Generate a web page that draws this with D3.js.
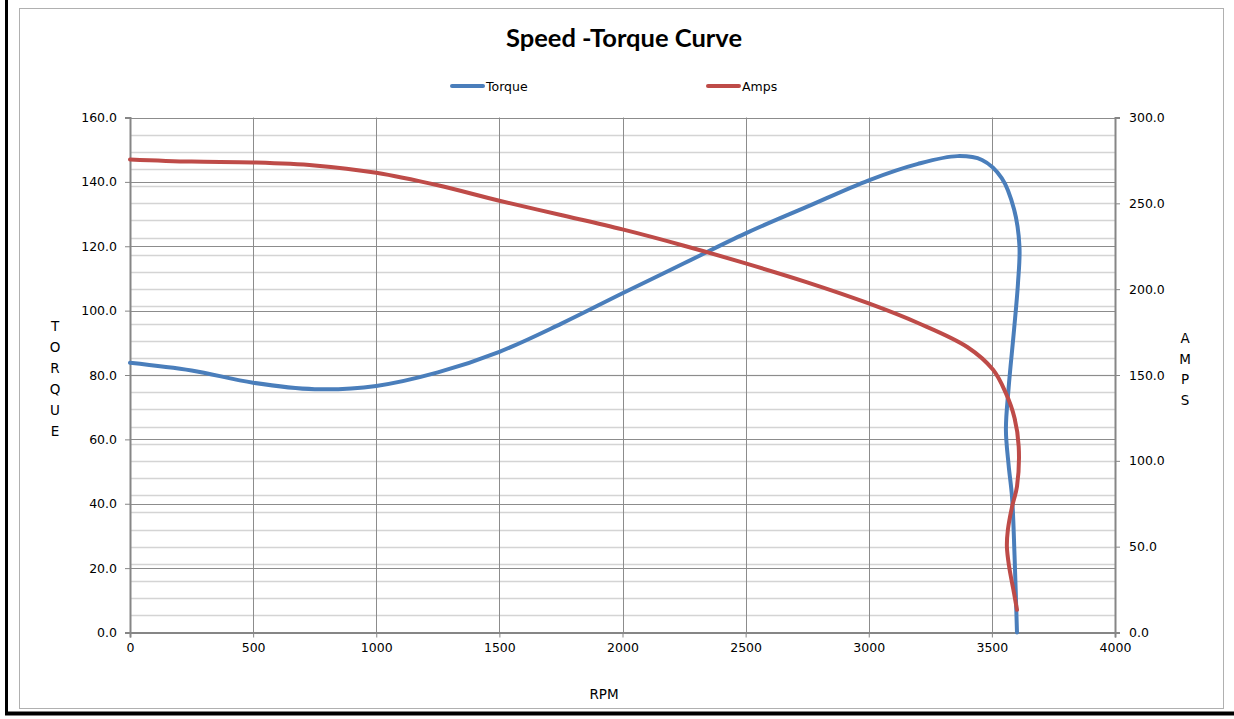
<!DOCTYPE html>
<html>
<head>
<meta charset="utf-8">
<script src="https://cdn.jsdelivr.net/npm/d3@7"></script>
<style>
  body { margin: 0; background: #fff; }
  svg text { font-family: "DejaVu Sans", sans-serif; fill: #000; }
</style>
</head>
<body>
<svg id="chart" width="1234" height="719"></svg>
<script>
// torque curve (rpm, lb-ft)
var torqueRpm = [0, 250, 500, 750, 1000, 1250, 1500, 1750, 2000, 2250, 2500, 2750, 3000, 3200, 3360, 3460, 3540, 3590, 3612, 3606, 3590, 3568, 3557, 3568, 3582, 3592, 3602];
var torqueVal = [83.8, 81.4, 77.6, 75.6, 76.6, 80.8, 87.2, 95.9, 105.4, 114.7, 124.0, 132.3, 140.5, 145.6, 148.0, 146.8, 141.2, 131.5, 120.0, 108.5, 94.0, 76.0, 63.0, 52.0, 42.0, 24.0, 0];

// amps curve
var ampsRpm = [0, 250, 500, 750, 1000, 1250, 1500, 1750, 2000, 2250, 2500, 2750, 3000, 3200, 3400, 3505, 3555, 3592, 3609, 3602, 3582, 3565, 3561, 3570, 3590, 3602];
var ampsVal = [275.6, 274.3, 273.8, 272.1, 267.8, 260.5, 251.5, 243.2, 234.8, 225.3, 215.0, 204.0, 191.7, 180.3, 166.3, 153.0, 140.0, 125.0, 108.3, 85.0, 73.3, 59.8, 50.0, 38.4, 22.9, 13.2];

var xTicks = [0, 500, 1000, 1500, 2000, 2500, 3000, 3500, 4000];
var torqueTicks = [0, 20, 40, 60, 80, 100, 120, 140, 160];
var ampsTicks = [0, 50, 100, 150, 200, 250, 300];

var torqueColor = "#4a7ebb";
var ampsColor = "#be4b48";
var axisColor = "#868686";

var svg = d3.select("#chart");

var margin = {left: 130, right: 1115, top: 117.5, bottom: 632.5};

var xScale = d3.scaleLinear().domain([0, 4000]).range([margin.left, margin.right]);
var yLeft = d3.scaleLinear().domain([0, 160]).range([margin.bottom, margin.top]);
var yRight = d3.scaleLinear().domain([0, 300]).range([margin.bottom, margin.top]);

// 外框
svg.append("rect")
    .attr("x", 19.5).attr("y", 8.5)
    .attr("width", 1204).attr("height", 700)
    .attr("fill", "none")
    .attr("stroke", "#b0b0b0")
    .attr("stroke-width", 1);
svg.append("line")
    .attr("x1", 6.5).attr("y1", 0).attr("x2", 6.5).attr("y2", 715)
    .attr("stroke", "#000").attr("stroke-width", 3);
svg.append("line")
    .attr("x1", 5).attr("y1", 713.5).attr("x2", 1234).attr("y2", 713.5)
    .attr("stroke", "#000").attr("stroke-width", 4);

// 网格
var grid = svg.append("g");
grid.selectAll(".amps-grid")
    .data(d3.range(10, 300, 10))
    .join("line")
    .attr("class", "amps-grid")
    .attr("x1", margin.left).attr("x2", margin.right)
    .attr("y1", d => Math.round(yRight(d)) + 0.5)
    .attr("y2", d => Math.round(yRight(d)) + 0.5)
    .attr("stroke", "#d4d4d4")
    .attr("stroke-width", 1.5);
grid.selectAll(".torque-grid")
    .data(torqueTicks.slice(1))
    .join("line")
    .attr("class", "torque-grid")
    .attr("x1", margin.left).attr("x2", margin.right)
    .attr("y1", d => Math.round(yLeft(d)) + 0.5)
    .attr("y2", d => Math.round(yLeft(d)) + 0.5)
    .attr("stroke", "#8c8c8c")
    .attr("stroke-width", 1);
grid.selectAll(".x-grid")
    .data(xTicks.slice(1, -1))
    .join("line")
    .attr("class", "x-grid")
    .attr("x1", d => Math.round(xScale(d)) + 0.5)
    .attr("x2", d => Math.round(xScale(d)) + 0.5)
    .attr("y1", margin.top).attr("y2", margin.bottom)
    .attr("stroke", "#8c8c8c")
    .attr("stroke-width", 1);

// 坐标轴
var fmt = d3.format(".1f");
var xAxis = d3.axisBottom(xScale).tickValues(xTicks).tickSize(5).tickPadding(6).tickFormat(d3.format("d"));
var leftAxis = d3.axisLeft(yLeft).tickValues(torqueTicks).tickSize(5).tickPadding(8).tickFormat(fmt);
var rightAxis = d3.axisRight(yRight).tickValues(ampsTicks).tickSize(5).tickPadding(9).tickFormat(fmt);

function styleAxis(g) {
    g.select(".domain").attr("stroke", axisColor).attr("stroke-width", 2);
    g.selectAll(".tick line").attr("stroke", axisColor);
    g.selectAll(".tick text").style("font-size", "12.5px").attr("fill", "#000");
}

svg.append("g").attr("transform", "translate(0," + margin.bottom + ")").call(xAxis).call(styleAxis);
svg.append("g").attr("transform", "translate(" + margin.left + ",0)").call(leftAxis).call(styleAxis);
svg.append("g").attr("transform", "translate(" + margin.right + ",0)").call(rightAxis).call(styleAxis);

// 曲线
var torqueData = torqueRpm.map((r, i) => [r, torqueVal[i]]);
var ampsData = ampsRpm.map((r, i) => [r, ampsVal[i]]);

var torqueLine = d3.line()
    .x(d => xScale(d[0]))
    .y(d => yLeft(d[1]))
    .curve(d3.curveCatmullRom.alpha(0.5));
var ampsLine = d3.line()
    .x(d => xScale(d[0]))
    .y(d => yRight(d[1]))
    .curve(d3.curveCatmullRom.alpha(0.5));

svg.append("path")
    .datum(torqueData)
    .attr("d", torqueLine)
    .attr("fill", "none")
    .attr("stroke", torqueColor)
    .attr("stroke-width", 4)
    .attr("stroke-linecap", "round")
    .attr("stroke-linejoin", "round");
svg.append("path")
    .datum(ampsData)
    .attr("d", ampsLine)
    .attr("fill", "none")
    .attr("stroke", ampsColor)
    .attr("stroke-width", 4)
    .attr("stroke-linecap", "round")
    .attr("stroke-linejoin", "round");

// 标题
svg.append("text")
    .attr("x", 624).attr("y", 47)
    .attr("text-anchor", "middle")
    .style("font-family", "Lato, 'Open Sans', sans-serif")
    .style("font-weight", 700)
    .style("font-size", "25.5px")
    .text("Speed -Torque Curve");

// 图例
var legendItems = [
    {label: "Torque", color: torqueColor, x: 452},
    {label: "Amps", color: ampsColor, x: 708}
];
var legend = svg.append("g");
legend.selectAll("line")
    .data(legendItems)
    .join("line")
    .attr("x1", d => d.x).attr("x2", d => d.x + 31)
    .attr("y1", 86).attr("y2", 86)
    .attr("stroke", d => d.color)
    .attr("stroke-width", 4)
    .attr("stroke-linecap", "round");
legend.selectAll("text")
    .data(legendItems)
    .join("text")
    .attr("x", d => d.x + 34)
    .attr("y", 90.5)
    .style("font-size", "12.5px")
    .text(d => d.label);

// 轴标题
svg.append("text")
    .attr("x", 604).attr("y", 699)
    .attr("text-anchor", "middle")
    .style("font-size", "13.5px")
    .text("RPM");

svg.append("g").selectAll("text")
    .data("TORQUE".split(""))
    .join("text")
    .attr("x", 55)
    .attr("y", (d, i) => 331 + i * 21)
    .attr("text-anchor", "middle")
    .style("font-size", "13.5px")
    .text(d => d);

svg.append("g").selectAll("text")
    .data("AMPS".split(""))
    .join("text")
    .attr("x", 1185)
    .attr("y", (d, i) => 343 + i * 20.5)
    .attr("text-anchor", "middle")
    .style("font-size", "13.5px")
    .text(d => d);
</script>
</body>
</html>
